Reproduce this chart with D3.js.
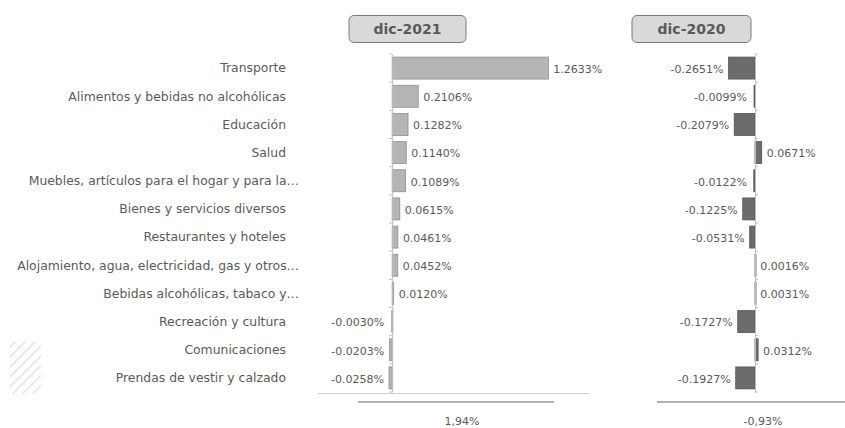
<!DOCTYPE html>
<html>
<head>
<meta charset="utf-8">
<script src="https://cdn.jsdelivr.net/npm/d3@7"></script>
<style>
	body { margin: 0; background: #fff; }
	text { font-family: "DejaVu Sans", sans-serif; fill: #5a5a5a; }
</style>
</head>
<body>
<svg id="chart" width="845" height="428"></svg>
<script>
var categories = [
	"Transporte",
	"Alimentos y bebidas no alcohólicas",
	"Educación",
	"Salud",
	"Muebles, artículos para el hogar y para la…",
	"Bienes y servicios diversos",
	"Restaurantes y hoteles",
	"Alojamiento, agua, electricidad, gas y otros…",
	"Bebidas alcohólicas, tabaco y…",
	"Recreación y cultura",
	"Comunicaciones",
	"Prendas de vestir y calzado"
];
var values2021 = [1.2633, 0.2106, 0.1282, 0.1140, 0.1089, 0.0615, 0.0461, 0.0452, 0.0120, -0.0030, -0.0203, -0.0258];
var values2020 = [-0.2651, -0.0099, -0.2079, 0.0671, -0.0122, -0.1225, -0.0531, 0.0016, 0.0031, -0.1727, 0.0312, -0.1927];
var headers = ["dic-2021", "dic-2020"];
var totals = ["1,94%", "-0,93%"];

var svg = d3.select("#chart");

// pattern for the little dotted texture in the bars
var defs = svg.append("defs");
function dots(id, bg, dot) {
	var p = defs.append("pattern").attr("id", id)
		.attr("width", 4).attr("height", 4).attr("patternUnits", "userSpaceOnUse");
	p.append("rect").attr("width", 4).attr("height", 4).attr("fill", bg);
	p.append("rect").attr("x", 1).attr("y", 1).attr("width", 1).attr("height", 1).attr("fill", dot);
}
dots("dotsLight", "#b4b4b4", "#c2c2c2");
dots("dotsDark", "#6b6b6b", "#767676");

var hatch = defs.append("pattern").attr("id", "hatch")
	.attr("width", 7).attr("height", 7).attr("patternUnits", "userSpaceOnUse")
	.attr("patternTransform", "rotate(45)");
hatch.append("line").attr("x1", 0).attr("y1", 0).attr("x2", 0).attr("y2", 7)
	.attr("stroke", "#cdcdcd").attr("stroke-width", 1.6);

var yScale = d3.scaleBand()
	.domain(categories)
	.range([54, 392])
	.paddingInner(0.22)
	.paddingOuter(0.11);

var panels = [
	{ values: values2021, x: d3.scaleLinear().domain([-0.6, 1.6]).range([318, 590]),
	  fill: "url(#dotsLight)", stroke: "#8f8f8f", box: [349, 466], tickSide: -1,
	  line: [358, 554], total: 462 },
	{ values: values2020, x: d3.scaleLinear().domain([-1, 0.9]).range([655, 845]),
	  fill: "url(#dotsDark)", stroke: "#555", box: [632, 751], tickSide: 1,
	  line: [657, 845], total: 763 }
];

// category labels
svg.append("g").selectAll("text")
	.data(categories)
	.join("text")
	.attr("x", function(d) { return d.slice(-1) == "…" ? 299 : 286; })
	.attr("y", function(d) { return yScale(d) + yScale.bandwidth() / 2; })
	.attr("dy", "0.35em")
	.attr("text-anchor", "end")
	.attr("font-size", 12.4)
	.text(function(d) { return d; });

// hatched swatch on the left
svg.append("rect").attr("x", 10).attr("y", 342).attr("width", 31).attr("height", 52)
	.attr("fill", "url(#hatch)");

// light base line of the first panel
svg.append("line").attr("x1", 318).attr("x2", 589).attr("y1", 393.5).attr("y2", 393.5)
	.attr("stroke", "#cfcfcf");

panels.forEach(function(p, pi) {
	var g = svg.append("g");
	var x0 = p.x(0);

	// header box
	g.append("rect")
		.attr("x", p.box[0]).attr("y", 15.5)
		.attr("width", p.box[1] - p.box[0]).attr("height", 27)
		.attr("rx", 5)
		.attr("fill", "#d9d9d9").attr("stroke", "#7a7a7a");
	g.append("text")
		.attr("x", (p.box[0] + p.box[1]) / 2).attr("y", 29)
		.attr("dy", "0.35em")
		.attr("text-anchor", "middle")
		.attr("font-size", 14).attr("font-weight", "bold")
		.attr("fill", "#555")
		.text(headers[pi]);

	// bars
	g.selectAll("rect.bar")
		.data(p.values)
		.join("rect")
		.attr("class", "bar")
		.attr("x", function(d) { return Math.min(x0, p.x(d)); })
		.attr("y", function(d, i) { return yScale(categories[i]); })
		.attr("width", function(d) { return Math.max(1, Math.abs(p.x(d) - x0)); })
		.attr("height", yScale.bandwidth())
		.attr("fill", p.fill)
		.attr("stroke", p.stroke)
		.attr("stroke-width", 0.8);

	// zero axis with ticks between rows
	var axis = p.tickSide < 0 ? d3.axisLeft(yScale) : d3.axisRight(yScale);
	axis.tickSize(0).tickFormat("");
	var ag = g.append("g").attr("transform", "translate(" + x0 + ",0)").call(axis);
	ag.select(".domain").attr("stroke", "#bdbdbd");
	g.selectAll("line.sep")
		.data(categories.concat([null]))
		.join("line")
		.attr("class", "sep")
		.attr("x1", x0).attr("x2", x0 + 3 * p.tickSide)
		.attr("y1", function(d, i) { return 54 + i * yScale.step(); })
		.attr("y2", function(d, i) { return 54 + i * yScale.step(); })
		.attr("stroke", "#bdbdbd");

	// value labels
	g.selectAll("text.val")
		.data(p.values)
		.join("text")
		.attr("class", "val")
		.attr("x", function(d) { return d >= 0 ? p.x(d) + 5 : Math.min(p.x(d), x0 - 3) - 5; })
		.attr("y", function(d, i) { return yScale(categories[i]) + yScale.bandwidth() / 2 + 1; })
		.attr("dy", "0.35em")
		.attr("text-anchor", function(d) { return d >= 0 ? "start" : "end"; })
		.attr("font-size", 11)
		.text(function(d) { return d.toFixed(4) + "%"; });

	// total line and value
	g.append("line").attr("x1", p.line[0]).attr("x2", p.line[1]).attr("y1", 402).attr("y2", 402)
		.attr("stroke", "#9a9a9a").attr("stroke-width", 1.5);
	g.append("text")
		.attr("x", p.total).attr("y", 421)
		.attr("dy", "0.35em")
		.attr("text-anchor", "middle")
		.attr("font-size", 11)
		.text(totals[pi]);
});
</script>
</body>
</html>
